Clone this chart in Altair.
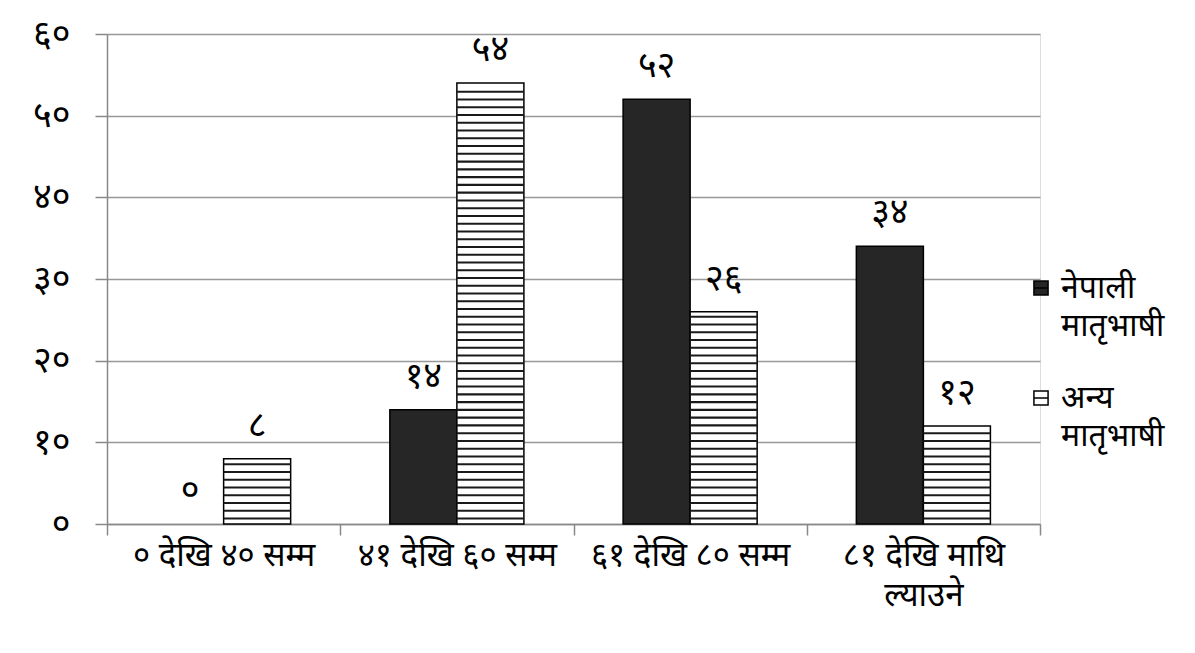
import altair as alt
import pandas as pd

categories = ["० देखि ४० सम्म", "४१ देखि ६० सम्म", "६१ देखि ८० सम्म", "८१ देखि माथि ल्याउने"]
series = ["नेपाली मातृभाषी", "अन्य मातृभाषी"]
nepali_values = [0, 14, 52, 34]
other_values = [8, 54, 26, 12]
nepali_labels = ["०", "१४", "५२", "३४"]
other_labels = ["८", "५४", "२६", "१२"]
y_ticks = [0, 10, 20, 30, 40, 50, 60]
y_tick_labels = ["०", "१०", "२०", "३०", "४०", "५०", "६०"]

rows = []
for c, v, l in zip(categories, nepali_values, nepali_labels):
    rows.append({"cat": c, "series": series[0], "value": v, "label": l})
for c, v, l in zip(categories, other_values, other_labels):
    rows.append({"cat": c, "series": series[1], "value": v, "label": l})
df = pd.DataFrame(rows)

FONT = "Noto Sans Devanagari, Noto Sans, sans-serif"
NUM_SIZE = 36
WORD_SIZE = 33

ylab_expr = ""
for t, l in zip(y_ticks, y_tick_labels):
    ylab_expr += f"datum.value == {t} ? '{l}' : "
ylab_expr += "''"

xlab_expr = f"datum.label == '{categories[3]}' ? ['८१ देखि माथि', 'ल्याउने'] : datum.label"

x_enc = alt.X("cat:N", sort=categories,
              scale=alt.Scale(paddingInner=0, paddingOuter=0),
              axis=alt.Axis(title=None, labelAngle=0, labelExpr=xlab_expr,
                            tickBand="extent", labelFontSize=WORD_SIZE, labelFont=FONT,
                            labelColor="black", labelPadding=4, tickSize=11,
                            tickColor="#888", domainColor="#888", tickWidth=1.5,
                            domainWidth=1.5, labelLineHeight=40, grid=False,
                            labelBaseline="top", labelLimit=1000))
xoff = alt.XOffset("series:N", sort=series,
                   scale=alt.Scale(paddingInner=0, paddingOuter=0.74))
y_enc = alt.Y("value:Q", scale=alt.Scale(domain=[0, 60]),
              axis=alt.Axis(title=None, values=y_ticks, labelExpr=ylab_expr,
                            labelFontSize=NUM_SIZE, labelFont=FONT, labelColor="black",
                            labelPadding=25, tickSize=12, tickColor="#888",
                            domainColor="#888", gridColor="#999", gridWidth=1.5,
                            tickWidth=1.5, domainWidth=1.5))

color = alt.Color("series:N", sort=series,
                  scale=alt.Scale(domain=series, range=["#262626", "#ffffff"]),
                  legend=alt.Legend(title=None, orient="none", legendX=918, legendY=238,
                                    labelExpr="split(datum.label, ' ')",
                                    labelFontSize=32, labelFont=FONT, labelColor="black",
                                    labelBaseline="middle",
                                    symbolType="M-1,-1H1V1H-1ZM-1,0H1",
                                    symbolSize=200, symbolStrokeColor="black",
                                    symbolStrokeWidth=1.5, rowPadding=40,
                                    labelOffset=4, labelLimit=300))

bars = alt.Chart(df).mark_bar(stroke="black").encode(
    x=x_enc, xOffset=xoff, y=y_enc, color=color,
    strokeWidth=alt.condition(alt.datum.value == 0, alt.value(0), alt.value(1.5)),
)

stripes = alt.Chart(df).transform_filter(
    alt.datum.series == series[1]
).transform_calculate(
    s="sequence(0.55, datum.value - 0.3, 0.95)"
).transform_flatten(["s"]).transform_calculate(
    s2="datum.s + 0.25"
).mark_bar(color="#1a1a1a").encode(
    x=alt.X("cat:N", sort=categories),
    xOffset=alt.XOffset("series:N", sort=series),
    y="s:Q", y2="s2:Q"
)

texts = alt.Chart(df).mark_text(fontSize=NUM_SIZE, font=FONT, color="black", dy=-33).encode(
    x=alt.X("cat:N", sort=categories),
    xOffset=alt.XOffset("series:N", sort=series),
    y="value:Q", text="label:N"
)

chart = alt.layer(bars, stripes, texts).properties(
    width=933, height=490,
    padding={"left": 99, "top": 26, "right": 147, "bottom": 121},
    autosize=alt.AutoSizeParams(type="none"),
).configure_view(stroke=None).configure(
    style={"guide-label": {"lineHeight": 38}}
)

chart.save("out.html", embed_options={"renderer": "svg", "actions": False})
